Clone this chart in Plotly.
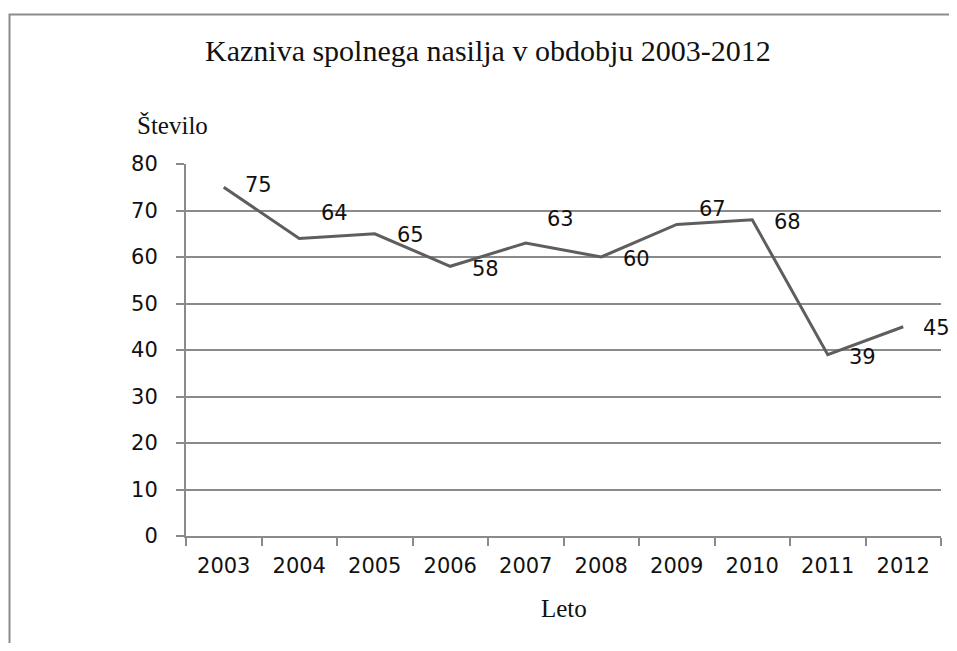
import plotly.graph_objects as go

# data
years = ["2003", "2004", "2005", "2006", "2007", "2008", "2009", "2010", "2011", "2012"]
counts = [75, 64, 65, 58, 63, 60, 67, 68, 39, 45]
y_ticks = [0, 10, 20, 30, 40, 50, 60, 70, 80]

title_text = "Kazniva spolnega nasilja v obdobju 2003-2012"
y_title = "Število"
x_title = "Leto"

# the page body adds an 8px margin on every side; keep the figure inside the
# window so no scrollbars appear
OFF = 8
W, H = 957 - 2 * OFF, 651 - 2 * OFF
PLOT_L, PLOT_R, PLOT_T, PLOT_B = 186, 941, 164, 536   # window pixels
ML, MT = PLOT_L - OFF, PLOT_T - OFF
MR, MB = W - (PLOT_R - OFF), H - (PLOT_B - OFF)
PW, PH = W - ML - MR, H - MT - MB


def px_x(px):
    # window pixel -> paper coordinate
    return (px - PLOT_L) / PW


def px_y(py):
    return (PLOT_B - py) / PH


GRID = "#8a8a8a"
LINE = "#5e5e5e"
TEXT = "#111111"
tick_font = dict(family="DejaVu Sans", size=21, color=TEXT)
serif = "Liberation Serif"

fig = go.Figure(go.Scatter(
    x=years,
    y=counts,
    mode="lines",
    line=dict(color=LINE, width=3),
    hoverinfo="x+y",
    showlegend=False,
))

# data labels sit right of each point; a few were nudged upward in the original
label_lift = [2, 25, -1, -3, 24, -2, 15, -2, -2, -1]
label_push = [35, 35, 36, 35, 35, 35, 36, 35, 35, 33]
for i, (val, lift, push) in enumerate(zip(counts, label_lift, label_push)):
    fig.add_annotation(
        x=i, y=val, text=str(val), showarrow=False,
        xanchor="center", yanchor="middle",
        xshift=push, yshift=lift,
        font=tick_font,
    )

# outer chart frame: only its left and top edges fall inside the window
fx0, fx1 = px_x(9.5), px_x(W + OFF)
fy0, fy1 = px_y(H + OFF), px_y(14.5)
fig.update_layout(
    width=W, height=H, autosize=False,
    margin=dict(l=ML, r=MR, t=MT, b=MB),
    paper_bgcolor="white",
    plot_bgcolor="white",
    font=dict(family="DejaVu Sans", color=TEXT),
    shapes=[dict(
        type="path", xref="paper", yref="paper",
        path=f"M {fx0},{fy0} L {fx0},{fy1} L {fx1},{fy1}",
        line=dict(color="#8c8c8c", width=2), layer="above",
    )],
)

fig.add_annotation(
    text=title_text, xref="paper", yref="paper",
    x=px_x(488), y=px_y(50), showarrow=False,
    xanchor="center", yanchor="middle",
    font=dict(family=serif, size=30, color=TEXT),
)
fig.add_annotation(
    text=y_title, xref="paper", yref="paper",
    x=px_x(135), y=px_y(125), showarrow=False,
    xanchor="left", yanchor="middle",
    font=dict(family=serif, size=25, color=TEXT),
)
fig.add_annotation(
    text=x_title, xref="paper", yref="paper",
    x=0.5, y=px_y(608), showarrow=False,
    xanchor="center", yanchor="middle",
    font=dict(family=serif, size=25, color=TEXT),
)

fig.update_xaxes(
    type="category",
    range=[-0.5, len(years) - 0.5],
    showgrid=False,
    showline=True, linecolor=GRID, linewidth=2,
    ticks="outside", tickson="boundaries", ticklen=8, tickwidth=2, tickcolor=GRID,
    tickfont=tick_font,
    ticklabelstandoff=10,
    zeroline=False,
)
fig.update_yaxes(
    range=[0, 80],
    tickvals=y_ticks,
    showgrid=True, gridcolor=GRID, gridwidth=2,
    showline=True, linecolor=GRID, linewidth=2,
    ticks="outside", ticklen=8, tickwidth=2, tickcolor=GRID,
    tickfont=tick_font,
    ticklabelstandoff=14,
    zeroline=False,
)

fig.write_html("out.html")
